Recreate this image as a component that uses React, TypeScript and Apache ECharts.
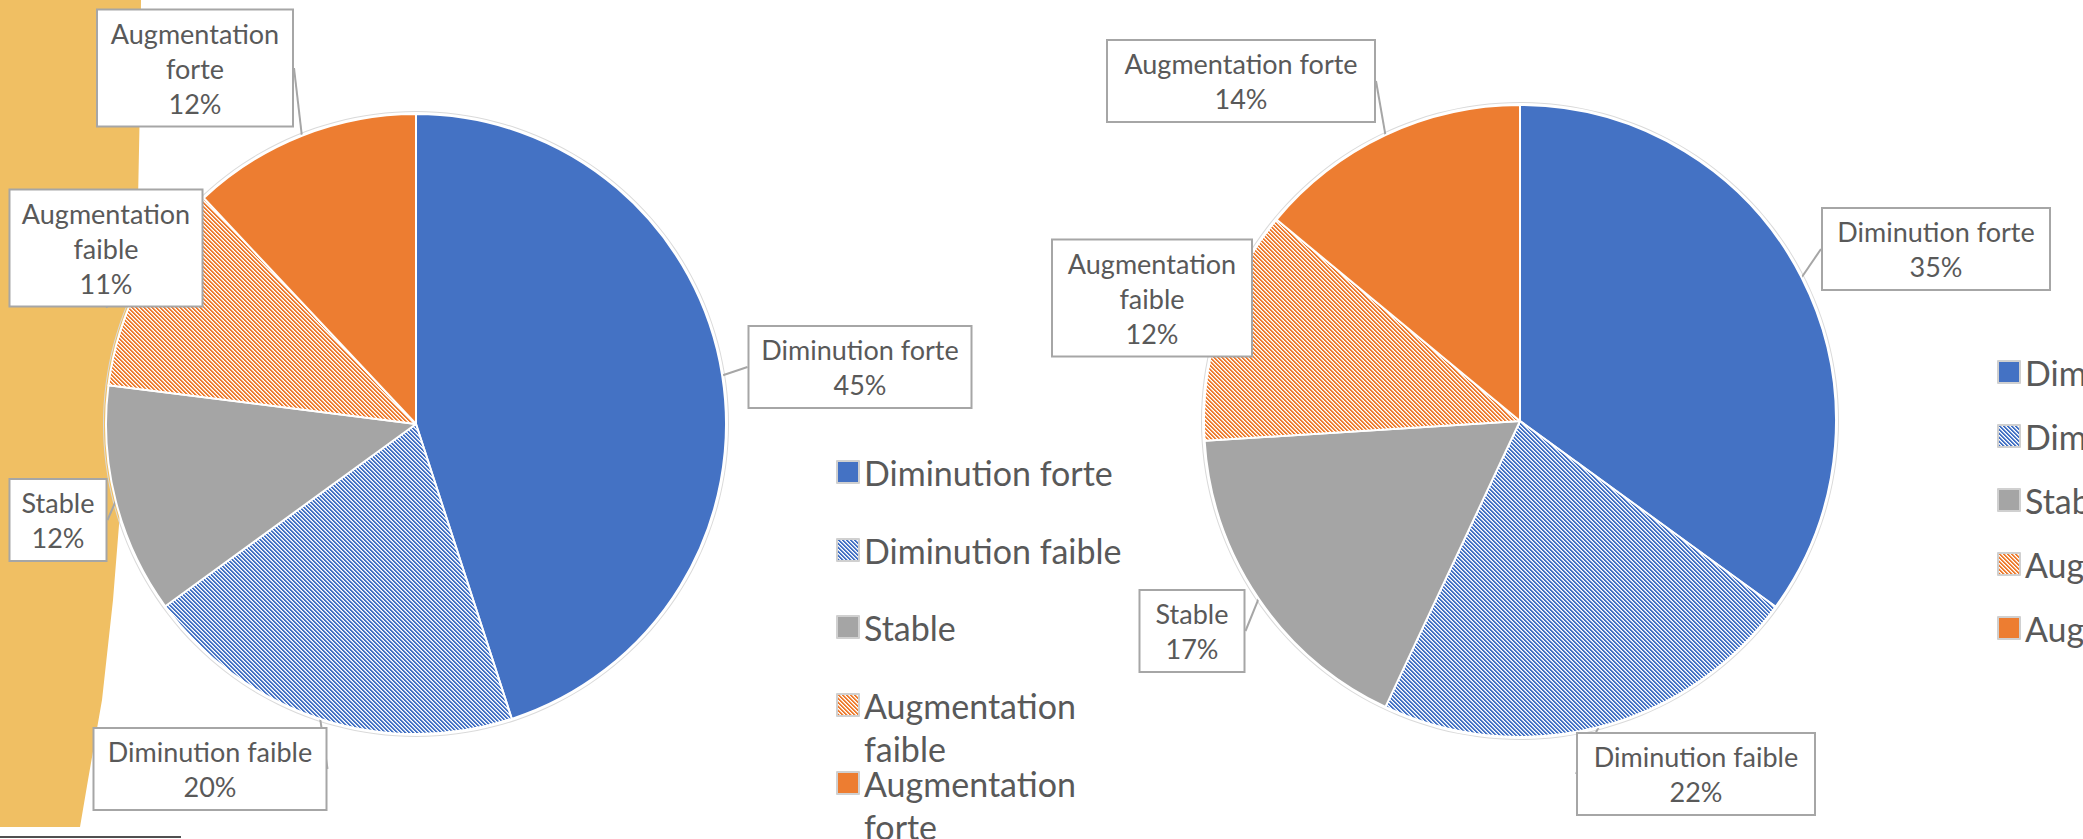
import React, { useEffect, useRef } from 'react';
import * as echarts from 'echarts';

// ---- data ----
const categories = ['Diminution forte', 'Diminution faible', 'Stable', 'Augmentation faible', 'Augmentation forte'];
const leftValues = [45, 20, 12, 11, 12];
const rightValues = [35, 22, 17, 12, 14];

// ---- styling ----
const BLUE = '#4472C4';
const GRAY = '#A5A5A5';
const ORANGE = '#ED7D31';
const TEXT = '#595959';
const BOX = '#A6A6A6';
const FONT = 'Lato';

function mix(hex: string, t: number) {
  const n = parseInt(hex.slice(1), 16);
  const r = (n >> 16) & 255, g = (n >> 8) & 255, b = n & 255;
  const f = (v: number) => Math.round(255 + (v - 255) * t);
  return `rgb(${f(r)},${f(g)},${f(b)})`;
}

function makeHatch(color: string) {
  const c = document.createElement('canvas');
  c.width = 4;
  c.height = 4;
  const ctx = c.getContext('2d')!;
  ctx.fillStyle = '#ffffff';
  ctx.fillRect(0, 0, 4, 4);
  const shades = [color, color, mix(color, 0.35), '#ffffff'];
  for (let y = 0; y < 4; y++) {
    for (let x = 0; x < 4; x++) {
      const k = (((x - y) % 4) + 4) % 4;
      ctx.fillStyle = shades[k];
      ctx.fillRect(x, y, 1, 1);
    }
  }
  return c;
}

export default function App() {
  const ref = useRef<HTMLDivElement>(null);

  useEffect(() => {
    document.body.style.margin = '0';
    const chart = echarts.init(ref.current!, null, { renderer: 'svg' });

    const blueHatch = { image: makeHatch(BLUE), repeat: 'repeat', imageWidth: 4, imageHeight: 4 };
    const orangeHatch = { image: makeHatch(ORANGE), repeat: 'repeat', imageWidth: 4, imageHeight: 4 };
    const fills: any[] = [BLUE, blueHatch, GRAY, orangeHatch, ORANGE];

    // label box layout per pie (center x, center y, inner width, wrap name)
    const leftLabels = [
      { x: 860, y: 367, w: 205, wrap: false },
      { x: 210, y: 769, w: 215, wrap: false },
      { x: 58, y: 520, w: 79, wrap: false },
      { x: 106, y: 248, w: 175, wrap: true },
      { x: 195, y: 68, w: 178, wrap: true },
    ];
    const rightLabels = [
      { x: 1936, y: 249, w: 210, wrap: false },
      { x: 1696, y: 774, w: 220, wrap: false },
      { x: 1192, y: 631, w: 87, wrap: false },
      { x: 1152, y: 298, w: 182, wrap: true },
      { x: 1241, y: 81, w: 250, wrap: false },
    ];

    const buildData = (values: number[], lbl: typeof leftLabels) =>
      categories.map((name, i) => ({
        name,
        value: values[i],
        itemStyle: { color: fills[i] },
        label: { width: lbl[i].w },
      }));

    const makePie = (values: number[], lbl: typeof leftLabels, center: number[], r: number) => ({
      type: 'pie',
      center,
      radius: [0, r],
      startAngle: 90,
      clockwise: true,
      avoidLabelOverlap: false,
      z: 3,
      itemStyle: { borderColor: '#ffffff', borderWidth: 2 },
      emphasis: { disabled: true },
      label: {
        show: true,
        position: 'outside',
        fontFamily: FONT,
        fontSize: 27,
        lineHeight: 35,
        color: TEXT,
        align: 'center',
        backgroundColor: '#ffffff',
        borderColor: BOX,
        borderWidth: 2,
        padding: [5, 8],
        overflow: 'break',
        formatter: (p: any) =>
          (lbl[p.dataIndex].wrap ? p.name.replace(' ', '\n') : p.name) + '\n' + Math.round(p.percent) + '%',
      },
      labelLine: { show: true, length: 0, length2: 0, smooth: false, lineStyle: { color: BOX, width: 2 } },
      labelLayout: (params: any) => ({
        x: lbl[params.dataIndex].x,
        y: lbl[params.dataIndex].y,
        align: 'center',
        verticalAlign: 'middle',
      }),
      data: buildData(values, lbl),
    });

    const outline = (center: number[], r: number) => ({
      type: 'pie',
      center,
      radius: [r + 2, r + 3],
      silent: true,
      z: 1,
      label: { show: false },
      labelLine: { show: false },
      itemStyle: { color: '#DADADA' },
      data: [{ name: '', value: 1 }],
    });

    const legendBase = {
      orient: 'vertical',
      padding: 0,
      icon: 'rect',
      itemWidth: 22,
      itemHeight: 22,
      selectedMode: false,
      itemStyle: { borderColor: '#D0D0D0', borderWidth: 2 },
    };
    const legendText = { fontFamily: FONT, fontSize: 34, color: TEXT, lineHeight: 43 };

    const leftRows = [
      { c: 472, wrap: false },
      { c: 550, wrap: false },
      { c: 627, wrap: false },
      { c: 705, wrap: true },
      { c: 783, wrap: true },
    ];
    const leftLegends = categories.map((name, i) => ({
      ...legendBase,
      left: 836,
      top: leftRows[i].wrap ? leftRows[i].c - 64.5 : leftRows[i].c - 21.5,
      data: [name],
      // wrapped items: an empty first line keeps the icon level with the first text line
      formatter: (n: string) => (leftRows[i].wrap ? '\n' + n.replace(' ', '\n') : n),
      textStyle: legendText,
    }));

    const rightLegend = {
      ...legendBase,
      left: 1997,
      top: 350.5,
      itemGap: 21,
      data: categories,
      textStyle: legendText,
    };

    const option: any = {
      animation: false,
      backgroundColor: '#ffffff',
      graphic: [
        {
          type: 'polygon',
          z: 0,
          silent: true,
          shape: {
            points: [
              [0, 0], [141, 0], [140, 100], [138, 200], [134, 300], [128, 400],
              [121, 500], [113, 600], [102, 700], [88, 780], [80, 827], [0, 827],
            ],
          },
          style: { fill: '#F0BF63' },
        },
        {
          type: 'line',
          z: 0,
          silent: true,
          shape: { x1: 0, y1: 837, x2: 181, y2: 837 },
          style: { stroke: '#505050', lineWidth: 2 },
        },
      ],
      legend: [...leftLegends, rightLegend],
      series: [
        outline([416, 424], 310),
        outline([1520, 421], 316),
        makePie(leftValues, leftLabels, [416, 424], 310),
        makePie(rightValues, rightLabels, [1520, 421], 316),
      ],
    };

    chart.setOption(option);
    return () => chart.dispose();
  }, []);

  return <div ref={ref} style={{ width: 2083, height: 839 }} />;
}
